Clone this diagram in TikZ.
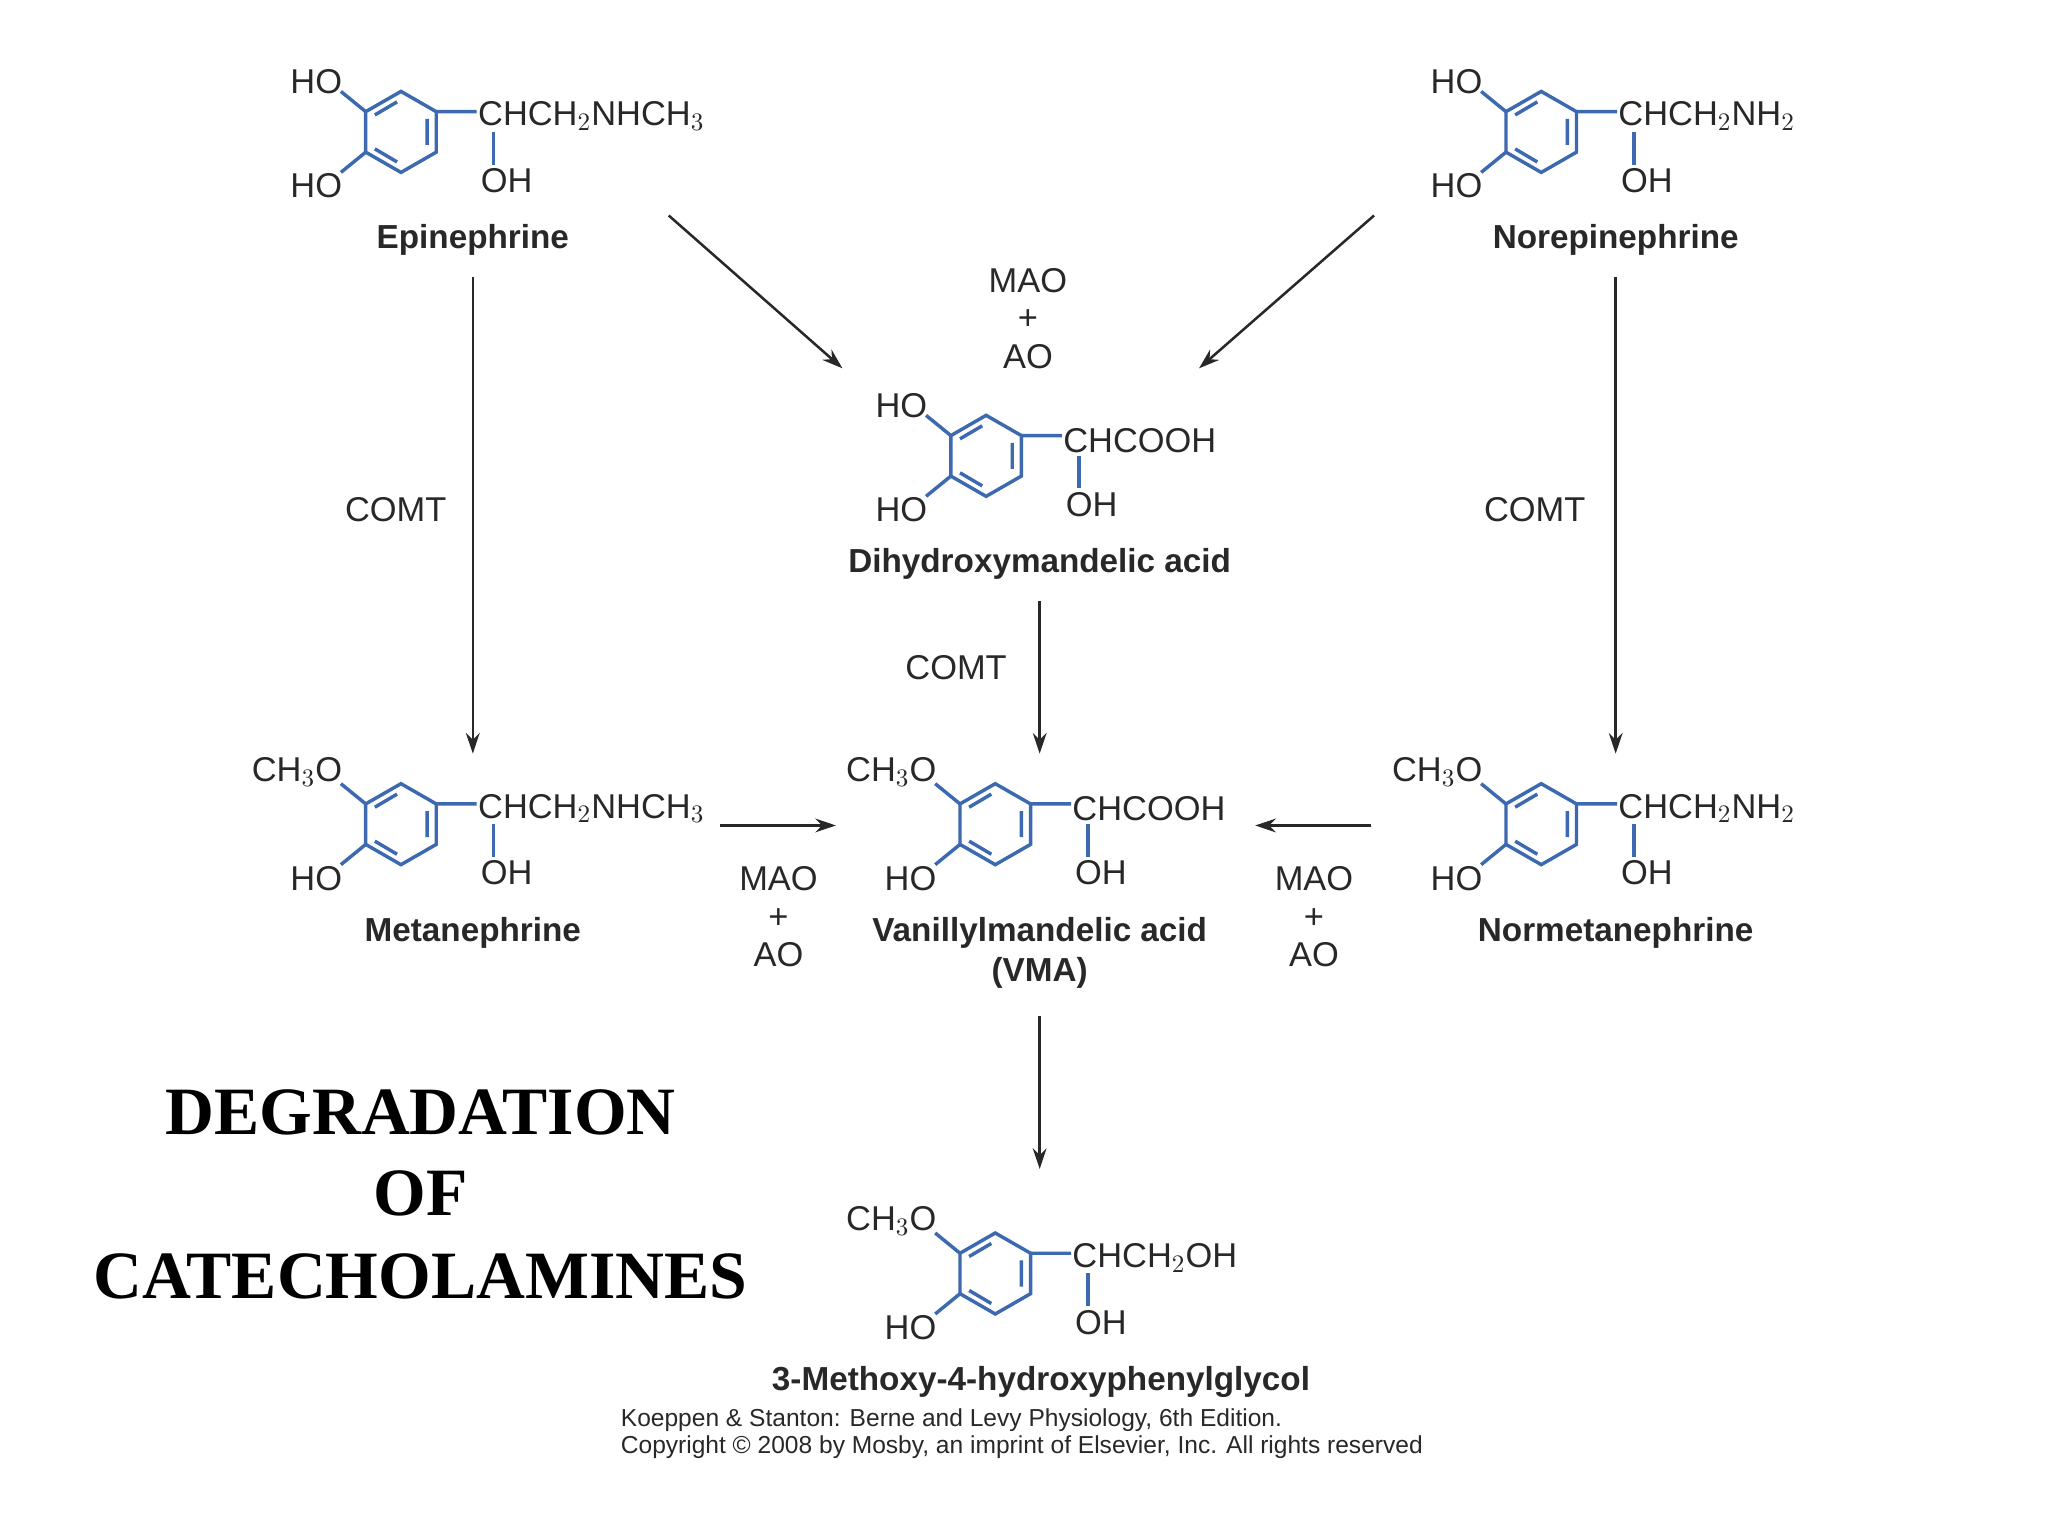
\documentclass[tikz,border=0pt]{standalone}
\usepackage{fontspec}
\setmainfont{Liberation Sans}
\newfontfamily\tnr{Liberation Serif}
\usetikzlibrary{arrows.meta}
\definecolor{bondblue}{RGB}{60,105,175}
\definecolor{txt}{RGB}{40,40,40}
\begin{document}
\begin{tikzpicture}[x=0.02cm,y=-0.02cm,
  lbl/.style={font=\fontsize{15}{17}\selectfont,text=txt,inner sep=1pt},
  cname/.style={font=\fontsize{14.5}{17}\selectfont\bfseries,text=txt},
  bond/.style={bondblue,line width=1.5pt},
  arr/.style={-{Stealth[length=9pt,width=6pt]},line width=1.1pt,txt},
  title/.style={font=\tnr\fontsize{29.5}{32}\selectfont\bfseries}]
\useasboundingbox (0,0) rectangle (1568,1176);
\fill[white] (0,0) rectangle (1568,1176);
% #1 cx #2 cy #3 top-left text #4 chain #5 id
\newcommand\molec[5]{%
 \begin{scope}[shift={(#1,#2)}]
  \draw[bond] (0,-31)--(27,-15.5)--(27,15.5)--(0,31)--(-27,15.5)--(-27,-15.5)--cycle;
  \draw[bond] (-3,-23)--(-20,-13) (20,-10)--(20,10) (-20,13)--(-3,23);
  \draw[bond] (-27,-15.5)--(-46,-31) (-27,15.5)--(-46,31) (27,-15.5)--(58,-15.5);
  \draw[bond] (71,0)--(71,25);
  \node[lbl,anchor=south east] (#5tl) at (-43,-27) {#3};
  \node[lbl,anchor=north east] (#5bl) at (-43,30) {HO};
  \node[lbl,anchor=west] (#5ch) at (57,-12) {#4};
  \node[lbl,anchor=north west] (#5oh) at (59,26) {OH};
 \end{scope}}
\molec{307}{101}{HO}{CHCH$_2$NHCH$_3$}{epi}
\molec{1180}{101}{HO}{CHCH$_2$NH$_2$}{nor}
\molec{755}{349}{HO}{CHCOOH}{dhm}
\molec{307}{631}{CH$_3$O}{CHCH$_2$NHCH$_3$}{met}
\molec{762}{631}{CH$_3$O}{CHCOOH}{vma}
\molec{1180}{631}{CH$_3$O}{CHCH$_2$NH$_2$}{nmt}
\molec{762}{975}{CH$_3$O}{CHCH$_2$OH}{mhp}
\node[cname] (nepi) at (362,184) {Epinephrine};
\node[cname] (nnor) at (1237,184) {Norepinephrine};
\node[cname] (ndhm) at (796,432) {Dihydroxymandelic acid};
\node[cname] (nmet) at (362,714) {Metanephrine};
\node[cname] (nvma) at (796,714) {Vanillylmandelic acid};
\node[cname] (nvma2) at (796,745) {(VMA)};
\node[cname] (nnmt) at (1237,714) {Normetanephrine};
\node[cname] (nmhp) at (797,1058) {3-Methoxy-4-hydroxyphenylglycol};
% arrow endpoints
\coordinate (a1) at (512,165); \coordinate (b1) at (645,282);
\coordinate (a2) at (1052,165); \coordinate (b2) at (918,282);
\coordinate (a3) at (362,212); \coordinate (b3) at (362,577);
\coordinate (a4) at (1237,212); \coordinate (b4) at (1237,577);
\coordinate (a5) at (796,460); \coordinate (b5) at (796,577);
\coordinate (a6) at (551,632); \coordinate (b6) at (640,632);
\coordinate (a7) at (1050,632); \coordinate (b7) at (961,632);
\coordinate (a8) at (796,778); \coordinate (b8) at (796,895);
\foreach \i in {1,...,8} \draw[arr] (a\i)--(b\i);
\node[lbl] (m1) at (787,215) {MAO};
\node[lbl] (p1) at (787,245) {+};
\node[lbl] (o1) at (787,273) {AO};
\node[lbl] (c1) at (303,390) {COMT};
\node[lbl] (c2) at (1175,390) {COMT};
\node[lbl] (c3) at (732,511) {COMT};
\node[lbl] (m2) at (596,673) {MAO};
\node[lbl] (p2) at (596,703) {+};
\node[lbl] (o2) at (596,731) {AO};
\node[lbl] (m3) at (1006,673) {MAO};
\node[lbl] (p3) at (1006,703) {+};
\node[lbl] (o3) at (1006,731) {AO};
\node[title] (t1) at (322,852) {DEGRADATION};
\node[title] (t2) at (322,914) {OF};
\node[title] (t3) at (322,977) {CATECHOLAMINES};
\node[anchor=west,font=\fontsize{10.7}{12}\selectfont,text=txt,inner sep=0] (cr1) at (475,1087) {Koeppen \& Stanton: Berne and Levy Physiology, 6th Edition.};
\node[anchor=west,font=\fontsize{10.7}{12}\selectfont,text=txt,inner sep=0] (cr2) at (475,1108) {Copyright \textcopyright\ 2008 by Mosby, an imprint of Elsevier, Inc. All rights reserved};
\end{tikzpicture}
\end{document}
